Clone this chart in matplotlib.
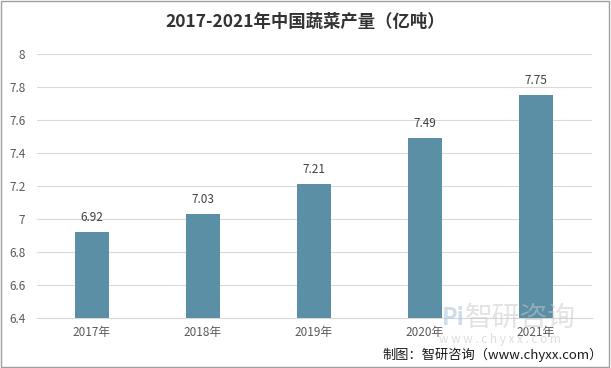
import matplotlib as mpl
mpl.use('Agg')
import matplotlib.pyplot as plt
from matplotlib.patches import Rectangle

plt.rcParams['font.family'] = ['Noto Sans CJK SC', 'DejaVu Sans']

years = ['2017年', '2018年', '2019年', '2020年', '2021年']
output = [6.92, 7.03, 7.21, 7.49, 7.75]
yticks = [6.4, 6.6, 6.8, 7, 7.2, 7.4, 7.6, 7.8, 8]
ytick_labels = ['6.4', '6.6', '6.8', '7', '7.2', '7.4', '7.6', '7.8', '8']

fig = plt.figure(figsize=(6.11, 3.68), dpi=100)
ax = fig.add_axes([36.5 / 611, 50 / 368, 555 / 611, 264 / 368])

x = range(len(years))
ax.bar(x, [v - 6.4 for v in output], bottom=6.4, width=0.31, color='#5b8fa6', zorder=3)
for i, v in enumerate(output):
    ax.text(i, v + 0.05, f'{v:.2f}', ha='center', va='bottom', fontsize=8.5, color='#404040')

ax.set_xlim(-0.5, len(years) - 0.5)
ax.set_ylim(6.4, 8)
ax.set_yticks(yticks)
ax.set_yticklabels(ytick_labels)
ax.set_xticks(list(x))
ax.set_xticklabels(years)
ax.tick_params(axis='both', length=0, labelsize=8.5, labelcolor='#595959')
ax.tick_params(axis='x', pad=6)
ax.tick_params(axis='y', pad=8)
ax.grid(axis='y', color='#d9d9d9', linewidth=0.8, zorder=0)
for s in ['top', 'right', 'left']:
    ax.spines[s].set_visible(False)
ax.spines['bottom'].set_color('#d9d9d9')

fig.text(0.5, 1 - 22 / 368, '2017-2021年中国蔬菜产量（亿吨）', ha='center', va='center',
         fontsize=12.5, fontweight='bold', color='#333333')

# watermark
fig.text(520 / 611, 1 - 318 / 368, '智研咨询', ha='center', va='center', fontsize=20,
         color='#c8c8c8', alpha=0.5)
fig.text(500 / 611, 1 - 339 / 368, 'w w w . c h y x x . c o m', ha='center', va='center',
         fontsize=8.5, color='#c8c8c8', alpha=0.6)
fig.text(453 / 611, 1 - 318 / 368, 'Pi', ha='center', va='center', fontsize=17,
         fontweight='bold', color='#b0c8dc', alpha=0.6)

fig.text(603 / 611, 1 - 355 / 368, '制图：智研咨询（www.chyxx.com）', ha='right', va='center',
         fontsize=9.5, color='#1a1a1a')

fig.patches.append(Rectangle((0.002, 0.003), 0.995, 0.994, transform=fig.transFigure,
                             fill=False, edgecolor='#a0a0a0', linewidth=1))

plt.savefig('out.png', dpi=100)
